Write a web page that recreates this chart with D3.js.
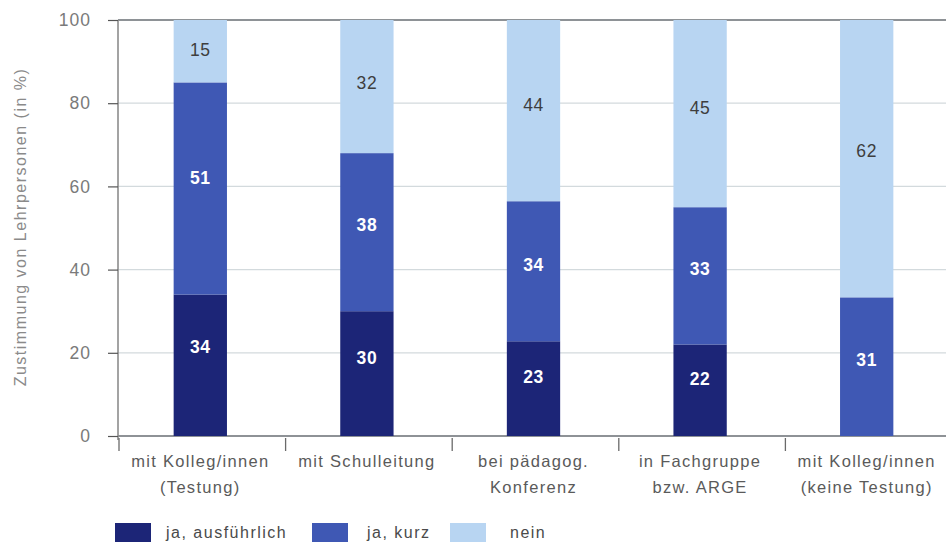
<!DOCTYPE html>
<html>
<head>
<meta charset="utf-8">
<script src="https://cdn.jsdelivr.net/npm/d3@7"></script>
<style>
  html, body { margin: 0; padding: 0; background: #fff; }
  svg { display: block; font-family: "Liberation Sans", Arial, Helvetica, sans-serif; }
</style>
</head>
<body>
<svg id="chart" width="946" height="544"></svg>
<script>
// Categories (two-line labels) and answer shares in percent
const categories = [
  ["mit Kolleg/innen", "(Testung)"],
  ["mit Schulleitung", ""],
  ["bei pädagog.", "Konferenz"],
  ["in Fachgruppe", "bzw. ARGE"],
  ["mit Kolleg/innen", "(keine Testung)"]
];
const seriesNames = ["ja, ausführlich", "ja, kurz", "nein"];
const jaAusfuehrlich = [34, 30, 23, 22, 0];
const jaKurz = [51, 38, 34, 33, 31];
const nein = [15, 32, 44, 45, 62];
const yTicks = [0, 20, 40, 60, 80, 100];
const yTitle = "Zustimmung von Lehrpersonen (in %)";

const colors = ["#1c2577", "#3f58b4", "#b8d5f2"];
const labelColors = ["#ffffff", "#ffffff", "#3e3e3e"];
// where inside each segment the value sits (fraction from the segment top)
const labelPos = [0.37, 0.45, 0.47];

const rows = categories.map((c, i) => ({
  key: i,
  "ja, ausführlich": jaAusfuehrlich[i],
  "ja, kurz": jaKurz[i],
  "nein": nein[i]
}));

const svg = d3.select("#chart");
const plotLeft = 118, plotRight = 950, plotTop = 20, plotBottom = 436;

const x = d3.scaleBand().domain(rows.map(d => d.key)).range([plotLeft - 1, plotRight])
  .paddingInner(0.68).paddingOuter(0.34);
const y = d3.scaleLinear().domain([0, 100]).range([plotBottom, plotTop]);

// each bar is shown as shares of its own total
const stack = d3.stack().keys(seriesNames).offset(d3.stackOffsetExpand);
const layers = stack(rows);

// horizontal grid
svg.append("g")
  .selectAll("line")
  .data(yTicks)
  .join("line")
  .attr("x1", plotLeft).attr("x2", 946)
  .attr("y1", d => y(d)).attr("y2", d => y(d))
  .attr("stroke", d => (d === 100 || d === 0) ? "#8e9296" : "#d3dadd")
  .attr("stroke-width", d => (d === 100 || d === 0) ? 2 : 1.2);

// y axis
const yAxis = svg.append("g")
  .attr("transform", `translate(${plotLeft},0)`)
  .call(d3.axisLeft(y).tickValues(yTicks).tickSize(10).tickPadding(17));
yAxis.select(".domain").attr("stroke", "#8c8c8c").attr("stroke-width", 1.6)
  .attr("d", `M0,${plotTop}V${plotBottom + 4}`);
yAxis.selectAll(".tick line").attr("stroke", "#555").attr("stroke-width", 1.2);
yAxis.selectAll(".tick text")
  .attr("fill", "#7a7a7a").attr("font-size", 17.5)
  .attr("letter-spacing", 1)
  .attr("font-family", "Liberation Sans, Arial, sans-serif");

// y title
svg.append("text")
  .attr("transform", `translate(26,227) rotate(-90)`)
  .attr("text-anchor", "middle")
  .attr("fill", "#8a8a8a")
  .attr("font-size", 16)
  .attr("letter-spacing", 1.5)
  .text(yTitle);

// stacked bars
const layerG = svg.append("g")
  .selectAll("g")
  .data(layers)
  .join("g")
  .attr("fill", (d, i) => colors[i]);

layerG.selectAll("rect")
  .data(d => d)
  .join("rect")
  .attr("x", d => x(d.data.key))
  .attr("width", x.bandwidth())
  .attr("y", d => y(d[1] * 100))
  .attr("height", d => y(d[0] * 100) - y(d[1] * 100));

// value labels
layers.forEach((layer, li) => {
  svg.append("g")
    .selectAll("text")
    .data(layer.filter(d => d.data[layer.key] > 0))
    .join("text")
    .attr("x", d => x(d.data.key) + x.bandwidth() / 2)
    .attr("y", d => {
      const t = y(d[1] * 100), b = y(d[0] * 100);
      return t + (b - t) * labelPos[li];
    })
    .attr("dy", "0.36em")
    .attr("text-anchor", "middle")
    .attr("fill", labelColors[li])
    .attr("font-size", 17.5)
    .attr("letter-spacing", 0.6)
    .attr("font-weight", li < 2 ? "bold" : "normal")
    .text(d => d.data[layer.key]);
});

// x ticks at band boundaries
const step = x.step();
svg.append("g")
  .selectAll("line")
  .data(rows)
  .join("line")
  .attr("x1", d => x(d.key) - step * 0.34 + 2)
  .attr("x2", d => x(d.key) - step * 0.34 + 2)
  .attr("y1", plotBottom + 2).attr("y2", plotBottom + 15)
  .attr("stroke", "#6a6a6a").attr("stroke-width", 1.3);

// category labels
const catG = svg.append("g")
  .selectAll("text")
  .data(rows)
  .join("text")
  .attr("text-anchor", "middle")
  .attr("fill", "#5a5a5a")
  .attr("font-size", 16.5)
  .attr("letter-spacing", 1.3);
catG.each(function(d) {
  const t = d3.select(this);
  const cx = x(d.key) + x.bandwidth() / 2;
  categories[d.key].forEach((line, k) => {
    if (!line) return;
    t.append("tspan").attr("x", cx).attr("y", 467 + k * 26).text(line);
  });
});

// legend
const legendX = [115, 312, 450];
const legend = svg.append("g")
  .selectAll("g")
  .data(seriesNames)
  .join("g")
  .attr("transform", (d, i) => `translate(${legendX[i]},523)`);
legend.append("rect")
  .attr("width", 36).attr("height", 19)
  .attr("fill", (d, i) => colors[i]);
legend.append("text")
  .attr("x", (d, i) => [51, 55, 60][i])
  .attr("y", 15)
  .attr("fill", "#4a4a4a")
  .attr("font-size", 16)
  .attr("letter-spacing", 1.5)
  .text(d => d);
</script>
</body>
</html>
